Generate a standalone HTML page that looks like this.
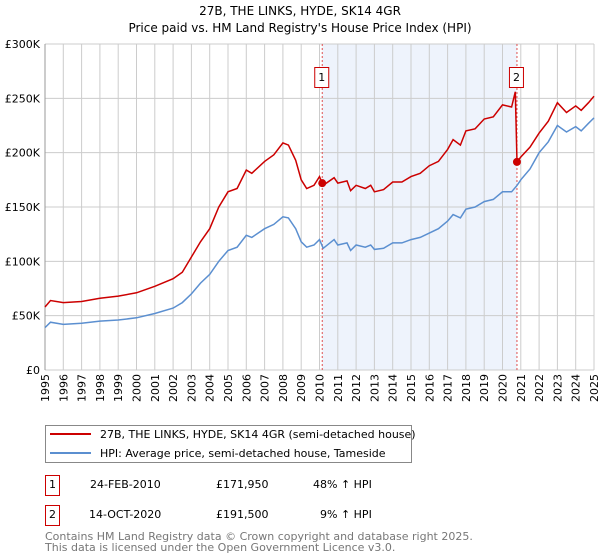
<!DOCTYPE html>
<html><head><meta charset="utf-8"><style>
body{margin:0;width:600px;height:560px;background:#fff;font-family:"Liberation Sans","DejaVu Sans",sans-serif;overflow:hidden}
svg{position:absolute;left:0;top:0}
</style></head><body>
<svg id="c" width="600" height="560" font-family="DejaVu Sans, Liberation Sans, sans-serif">
<text x="300" y="15" text-anchor="middle" font-size="12">27B, THE LINKS, HYDE, SK14 4GR</text>
<text x="300" y="32" text-anchor="middle" font-size="12">Price paid vs. HM Land Registry's House Price Index (HPI)</text>
<g id="plot"></g>
<g>
<rect x="45.5" y="425.5" width="366" height="37" fill="#fff" stroke="#888"/>
<line x1="50" y1="434" x2="91" y2="434" stroke="#cc0000" stroke-width="2"/>
<text x="100" y="438" font-size="11">27B, THE LINKS, HYDE, SK14 4GR (semi-detached house)</text>
<line x1="50" y1="453" x2="91" y2="453" stroke="#5b8fd0" stroke-width="2"/>
<text x="100" y="457" font-size="11">HPI: Average price, semi-detached house, Tameside</text>
</g>
<g font-size="11">
<rect x="45.5" y="475.5" width="14" height="20" fill="#fff" stroke="#cc0000"/>
<text x="52.5" y="488" text-anchor="middle">1</text>
<text x="90" y="488">24-FEB-2010</text><text x="216" y="488">£171,950</text><text x="313" y="488">48% ↑ HPI</text>
<rect x="45.5" y="505.5" width="14" height="20" fill="#fff" stroke="#cc0000"/>
<text x="52.5" y="518" text-anchor="middle">2</text>
<text x="89" y="518">14-OCT-2020</text><text x="216" y="518">£191,500</text><text x="320" y="518">9% ↑ HPI</text>
</g>
<g font-size="11" fill="#777">
<text x="45" y="540">Contains HM Land Registry data © Crown copyright and database right 2025.</text>
<text x="45" y="551">This data is licensed under the Open Government Licence v3.0.</text>
</g>
</svg>
<script>
const hpiYears=[1995,1995.3,1996,1997,1998,1999,2000,2001,2002,2002.5,2003,2003.5,2004,2004.5,2005,2005.5,2006,2006.3,2007,2007.5,2008,2008.3,2008.7,2009,2009.3,2009.7,2010,2010.2,2010.8,2011,2011.5,2011.7,2012,2012.5,2012.8,2013,2013.5,2014,2014.5,2015,2015.5,2016,2016.5,2017,2017.3,2017.7,2018,2018.5,2019,2019.5,2020,2020.5,2020.8,2021,2021.5,2022,2022.5,2023,2023.5,2024,2024.3,2024.7,2025];
const hpiValues=[39,44,42,43,45,46,48,52,57,62,70,80,88,100,110,113,124,122,130,134,141,140,130,118,113,115,120,112,120,115,117,110,115,113,115,111,112,117,117,120,122,126,130,137,143,140,148,150,155,157,164,164,170,175,185,200,210,225,219,224,220,227,232];
const redYears=[1995,1995.3,1996,1997,1998,1999,2000,2001,2002,2002.5,2003,2003.5,2004,2004.5,2005,2005.5,2006,2006.3,2007,2007.5,2008,2008.3,2008.7,2009,2009.3,2009.7,2010,2010.2,2010.8,2011,2011.5,2011.7,2012,2012.5,2012.8,2013,2013.5,2014,2014.5,2015,2015.5,2016,2016.5,2017,2017.3,2017.7,2018,2018.5,2019,2019.5,2020,2020.5,2020.7,2020.79,2021,2021.5,2022,2022.5,2023,2023.5,2024,2024.3,2024.7,2025];
const redValues=[58,64,62,63,66,68,71,77,84,90,104,118,130,150,164,167,184,181,192,198,209,207,193,175,167,170,178,170,177,172,174,165,170,167,170,164,166,173,173,178,181,188,192,203,212,207,220,222,231,233,244,242,256,191.5,196,205,218,229,246,237,243,239,246,252];
const saleYears=[2010.15,2020.79];
const saleValues=[171.95,191.5];
const saleLabels=["1","2"];
const yTicks=[0,50,100,150,200,250,300];
const yTickLabels=["£0","£50K","£100K","£150K","£200K","£250K","£300K"];
const xTicks=[1995,1996,1997,1998,1999,2000,2001,2002,2003,2004,2005,2006,2007,2008,2009,2010,2011,2012,2013,2014,2015,2016,2017,2018,2019,2020,2021,2022,2023,2024,2025];

const X0=45,X1=594,Y0=370,Y1=44;
const xs=y=>X0+(y-1995)/30*(X1-X0);
const ys=v=>Y0-v/300*(Y0-Y1);
const NS="http://www.w3.org/2000/svg";
const g=document.getElementById('plot');
function mk(t,a){const e=document.createElementNS(NS,t);for(const k in a)e.setAttribute(k,a[k]);g.appendChild(e);return e;}
let e=mk('rect',{x:X0,y:Y1,width:X1-X0,height:Y0-Y1,fill:'#fff'});


e=mk('rect',{x:xs(saleYears[0]),y:Y1,width:xs(saleYears[1])-xs(saleYears[0]),height:Y0-Y1,fill:'#eef3fc'});


xTicks.forEach(t=>{
 const l=mk('line',{x1:xs(t),x2:xs(t),y1:Y1,y2:Y0,stroke:'#ccc','stroke-width':1});
 
 
 const tx=mk('text',{transform:`translate(${xs(t)+4},${Y0+4}) rotate(-90)`,'text-anchor':'end','font-size':11});
 tx.textContent=t;
 
 
});
yTicks.forEach((t,i)=>{
 const l=mk('line',{x1:X0,x2:X1,y1:ys(t),y2:ys(t),stroke:'#ccc','stroke-width':1});
 
 
 const tx=mk('text',{x:X0-5,y:ys(t)+4,'text-anchor':'end','font-size':11});
 tx.textContent=yTickLabels[i];
 
 
});
mk('line',{x1:X0,x2:X0,y1:Y1,y2:Y0,stroke:'#999'});
saleYears.forEach((s,i)=>{
 const l=mk('line',{x1:xs(s),x2:xs(s),y1:Y1,y2:Y0,stroke:'#e05050','stroke-dasharray':'2,2'});
 
 
});
function path(xa,va,col,name){
 const p=mk('path',{d:xa.map((x,i)=>(i?'L':'M')+xs(x).toFixed(1)+','+ys(va[i]).toFixed(1)).join(''),fill:'none',stroke:col,'stroke-width':1.5});
 
 
}
path(hpiYears,hpiValues,'#5b8fd0','hpi-line');
path(redYears,redValues,'#cc0000','property-price-line');
saleYears.forEach((s,i)=>{
 const c=mk('circle',{cx:xs(s),cy:ys(saleValues[i]),r:4,fill:'#cc0000'});
 
 
 const b=mk('rect',{x:xs(s)-7.5,y:67.5,width:14,height:20,fill:'#fff',stroke:'#cc0000'});
 
 
 const t=mk('text',{x:xs(s)-0.5,y:81,'text-anchor':'middle','font-size':11});
 t.textContent=saleLabels[i];
 
 
});
</script>
</body></html>
